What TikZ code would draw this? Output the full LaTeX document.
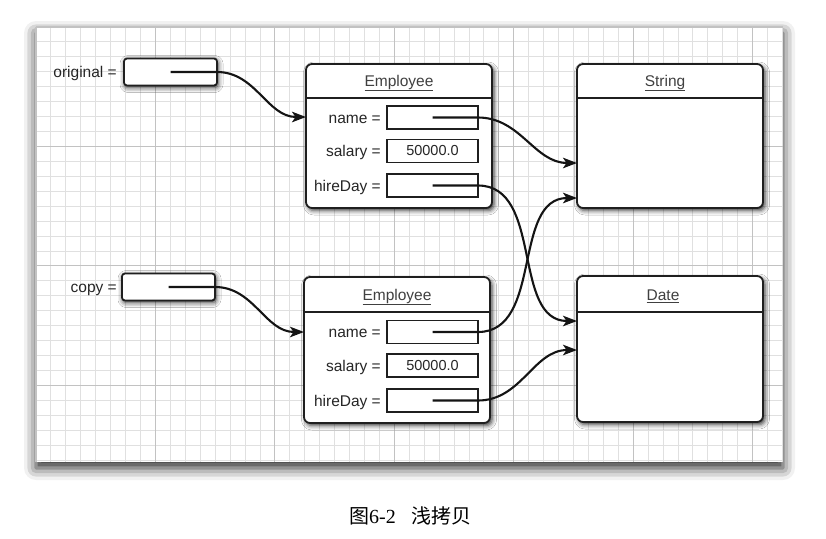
\documentclass[tikz,border=0pt]{standalone}
\usepackage{fontspec}
\setmainfont{Liberation Sans}
\newfontfamily\serifcap{Liberation Serif}
\newfontfamily\cjk{Noto Sans CJK SC}
\usetikzlibrary{arrows.meta,calc,shadows.blur}
\begin{document}
\begin{tikzpicture}[x=1pt,y=-1pt,
  sheet/.style={draw=none,fill=white,inner sep=0,outer sep=0,
    blur shadow={shadow xshift=0pt,shadow yshift=-6pt,shadow blur radius=12pt,shadow opacity=85}},
  minorline/.style={draw=black!12,line width=0.9pt},
  majorline/.style={draw=black!24,line width=1.1pt},
  classbox/.style={draw=black!88,line width=1.8pt,fill=white,rounded corners=6pt,inner sep=0,outer sep=0,
    blur shadow={shadow xshift=2pt,shadow yshift=-2.5pt,shadow blur radius=4.5pt,shadow opacity=80}},
  ptrbox/.style={draw=black!88,line width=1.8pt,fill=white,rounded corners=3pt,inner sep=0,outer sep=0,
    minimum width=93pt,minimum height=27pt,
    blur shadow={shadow xshift=1pt,shadow yshift=-2pt,shadow blur radius=5pt,shadow opacity=85}},
  field/.style={draw=black!88,line width=1.6pt,fill=white,inner sep=0,outer sep=0,
    minimum width=91pt,minimum height=23pt,font=\fontsize{14.5}{17}\selectfont,text=black!85},
  lbl/.style={anchor=east,inner sep=0,font=\fontsize{15.5}{18}\selectfont,text=black!85,yshift=-1.5pt},
  title/.style={inner sep=0,font=\fontsize{15.5}{18}\selectfont,text=black!75},
  sepline/.style={draw=black!88,line width=1.5pt},
  ptr/.style={draw=black!92,line width=2.1pt,-{Stealth[length=14pt,width=10.5pt,inset=3.5pt]}}
]
\useasboundingbox (0,0) rectangle (826,538);

% paper sheet with grid
\node[sheet,minimum width=747pt,minimum height=435pt] (sheet) at (409.5,244.5) {};
\foreach \i in {0,...,50} {\draw[minorline] ({36+\i*14.93},27) -- ({36+\i*14.93},462);}
\foreach \j in {0,...,29} {\draw[minorline] (36,{27+\j*14.93}) -- (783,{27+\j*14.93});}
\foreach \i in {0,8,...,48} {\draw[majorline] ({36+\i*14.93},27) -- ({36+\i*14.93},462);}
\foreach \j in {0,8,...,24} {\draw[majorline] (36,{27+\j*14.93}) -- (783,{27+\j*14.93});}

% pointer variables
\node[ptrbox] (orig) at (170.5,72) {};
\node[lbl] (origlbl) at (117,72) {original =};
\node[ptrbox] (copy) at (168.5,287) {};
\node[lbl] (copylbl) at (117,288) {copy =};

% Employee 1
\node[classbox,minimum width=186pt,minimum height=144pt] (emp1) at (399,136) {};
\draw[sepline] ($(emp1.north west)+(0,34)$) -- ($(emp1.north east)+(0,34)$);
\node[title] (emp1t) at (399,83) {\underline{Employee}};
\node[field] (n1) at (432.5,117.5) {};
\node[field] (s1) at (432.5,151) {50000.0};
\node[field] (h1) at (432.5,185.5) {};
\node[lbl] (n1l) at (381,118) {name =};
\node[lbl] (s1l) at (381,151) {salary =};
\node[lbl] (h1l) at (381,186) {hireDay =};

% Employee 2
\node[classbox,minimum width=186pt,minimum height=146pt] (emp2) at (397,350) {};
\draw[sepline] ($(emp2.north west)+(0,35)$) -- ($(emp2.north east)+(0,35)$);
\node[title] (emp2t) at (397,297) {\underline{Employee}};
\node[field] (n2) at (432.5,332) {};
\node[field] (s2) at (432.5,365.5) {50000.0};
\node[field] (h2) at (432.5,400.5) {};
\node[lbl] (n2l) at (381,332) {name =};
\node[lbl] (s2l) at (381,366) {salary =};
\node[lbl] (h2l) at (381,401) {hireDay =};

% String
\node[classbox,minimum width=186pt,minimum height=144pt] (str) at (670,136) {};
\draw[sepline] ($(str.north west)+(0,34)$) -- ($(str.north east)+(0,34)$);
\node[title] (strt) at (665,83) {\underline{String}};

% Date
\node[classbox,minimum width=186pt,minimum height=146pt] (date) at (670,349) {};
\draw[sepline] ($(date.north west)+(0,36)$) -- ($(date.north east)+(0,36)$);
\node[title] (datet) at (663,296) {\underline{Date}};

% references
\draw[ptr] (orig.center) -- (orig.east) to[out=0,in=180] ([yshift=19pt]emp1.west);
\draw[ptr] (copy.center) -- (copy.east) to[out=0,in=180] ([yshift=18pt]emp2.west);
\draw[ptr] (n1.center) -- (n1.east) to[out=0,in=180] ([yshift=-27pt]str.west);
\draw[ptr] (h1.center) -- (h1.east) to[out=0,in=180] ([yshift=28pt]date.west);
\draw[ptr] (n2.center) -- (n2.east) to[out=0,in=180] ([yshift=-62pt]str.west);
\draw[ptr] (h2.center) -- (h2.east) to[out=0,in=180] ([yshift=-1pt]date.west);

% caption
\node[inner sep=0] (cap) at (410.5,516) {{\cjk\fontsize{20}{24}\selectfont 图}{\serifcap\fontsize{20}{24}\selectfont 6-2}\hspace{16pt}{\cjk\fontsize{20}{24}\selectfont 浅拷贝}};
\end{tikzpicture}
\end{document}
